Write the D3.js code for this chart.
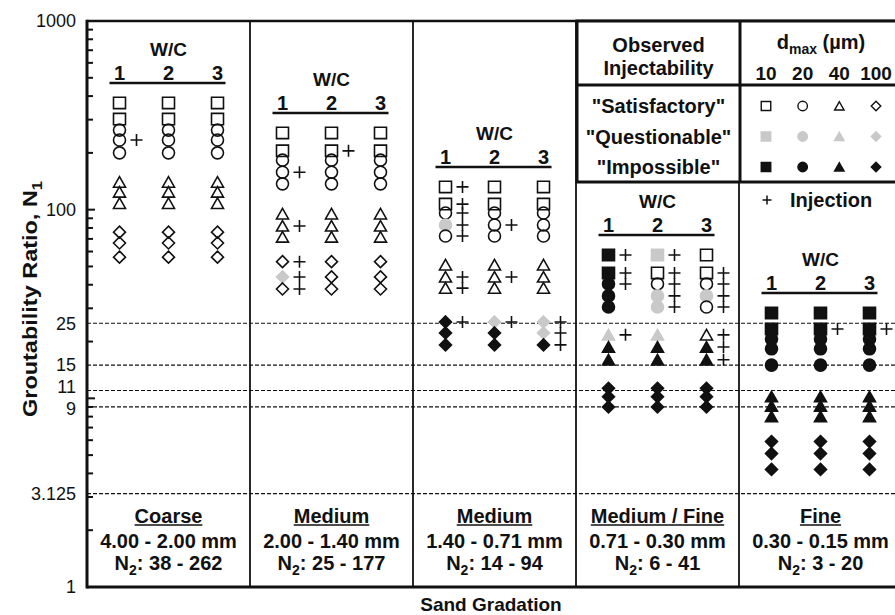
<!DOCTYPE html>
<html>
<head>
<meta charset="utf-8">
<script src="https://cdn.jsdelivr.net/npm/d3@7"></script>
<style>
  html, body { margin: 0; padding: 0; background: #fff; }
  svg { display: block; font-family: "Liberation Sans", Arial, sans-serif; }
</style>
</head>
<body>
<svg id="chart" width="895" height="615"></svg>
<script>
// ---- Sand gradation classes (one panel each) ----
const gradations = ["Coarse", "Medium", "Medium", "Medium / Fine", "Fine"];
const sizeRanges = ["4.00 - 2.00 mm", "2.00 - 1.40 mm", "1.40 - 0.71 mm", "0.71 - 0.30 mm", "0.30 - 0.15 mm"];
const n2Ranges = ["38 - 262", "25 - 177", "14 - 94", "6 - 41", "3 - 20"];
const wcRatios = [1, 2, 3];

// ---- Grout fineness d_max (µm) ----
const dmaxValues = [10, 20, 40, 100];
const statusKeys = ["S", "Q", "I"];
const statusNames = ['"Satisfactory"', '"Questionable"', '"Impossible"'];

// d_max of each grout, listed top to bottom inside a W/C column
const markerDmax = [10, 10, 20, 20, 20, 40, 40, 40, 100, 100, 100];

// Groutability ratio N1 of each grout, per sand gradation
const n1Coarse     = [368, 302, 264, 234, 200, 140, 124, 108, 76, 66.6, 56];
const n1Medium     = [255, 205, 183, 158, 137, 95, 82, 71.6, 53, 44, 38];
const n1MediumFine = [132, 107, 96, 83, 72.5, 51, 44, 38.4, 25.4, 22.2, 19.2];
const n1FineMedium = [57.5, 46.2, 40.4, 34.9, 30.5, 21.7, 18.7, 16, 11.3, 10.2, 9];
const n1Fine       = [28.3, 23.3, 20.6, 18.3, 15, 10.2, 9.1, 8, 5.9, 5.1, 4.2];
const n1Values = [n1Coarse, n1Medium, n1MediumFine, n1FineMedium, n1Fine];

// Observed injectability per W/C column (S satisfactory, Q questionable, I impossible)
const statusCoarse     = ["SSSSSSSSSSS", "SSSSSSSSSSS", "SSSSSSSSSSS"];
const statusMedium     = ["SSSSSSSSSQS", "SSSSSSSSSSS", "SSSSSSSSSSS"];
const statusMediumFine = ["SSSQSSSSIII", "SSSSSSSSQII", "SSSSSSSSQQI"];
const statusFineMedium = ["IIIIIQIIIII", "QSSQQQIIIII", "SSSQSSIIIII"];
const statusFine       = ["IIIIIIIIIII", "IIIIIIIIIII", "IIIIIIIIIII"];
const statusCodes = [statusCoarse, statusMedium, statusMediumFine, statusFineMedium, statusFine];

// Grouts (row index) with an injection test, per W/C column
const injectedCoarse     = [[3], [], []];
const injectedMedium     = [[3, 6, 8, 9, 10], [1], []];
const injectedMediumFine = [[0, 1, 2, 3, 4, 6, 7, 8], [3, 6, 8], [8, 9, 10]];
const injectedFineMedium = [[0, 1, 2, 5], [0, 1, 2, 3, 4], [1, 2, 3, 4, 5, 6, 7]];
const injectedFine       = [[], [1], [1]];
const injectedIdx = [injectedCoarse, injectedMedium, injectedMediumFine, injectedFineMedium, injectedFine];

// ---- Reference N1 levels and axis labels ----
const thresholds = [25, 15, 11, 9, 3.125];
const tickLabels = [1000, 100, 25, 15, 11, 9, 3.125, 1];

// ---- Layout ----
const svg = d3.select("#chart");
const plotL = 87, plotR = 902, plotT = 21, plotB = 587;
const INK = "#111", GREY = "#c9c9c9";

const y = d3.scaleLog().domain([1, 1000]).range([plotB, plotT]);
const xPanel = d3.scaleBand().domain(d3.range(gradations.length)).range([plotL, plotR]);
const xWC = d3.scalePoint().domain(wcRatios).range([-49, 49]);
const panelCenter = i => xPanel(i) + xPanel.bandwidth() / 2;

// ---- Symbol shapes (size = nominal width in px) ----
const symSquare = { draw(ctx, s) { const h = s / 2; ctx.rect(-h, -h * 0.95, s, s * 0.95); } };
const symCircle = { draw(ctx, s) { const r = s / 2; ctx.moveTo(r, 0); ctx.arc(0, 0, r, 0, 2 * Math.PI); } };
const symTriangle = { draw(ctx, s) { const h = s / 2; ctx.moveTo(0, -h * 0.9); ctx.lineTo(h, h * 0.85); ctx.lineTo(-h, h * 0.85); ctx.closePath(); } };
const symDiamond = { draw(ctx, s) { const h = s / 2; ctx.moveTo(0, -h); ctx.lineTo(h, 0); ctx.lineTo(0, h); ctx.lineTo(-h, 0); ctx.closePath(); } };
const symbolFor = new Map([[10, symSquare], [20, symCircle], [40, symTriangle], [100, symDiamond]]);
const fillFor = { S: "none", Q: GREY, I: INK };
const strokeFor = { S: INK, Q: GREY, I: INK };

// ---- Reference levels (dashed) ----
svg.append("g")
  .selectAll("line")
  .data(thresholds)
  .join("line")
  .attr("x1", plotL).attr("x2", plotR)
  .attr("y1", d => y(d)).attr("y2", d => y(d))
  .attr("stroke", INK).attr("stroke-width", 1.2)
  .attr("stroke-dasharray", "4,2");

// ---- Panel dividers ----
svg.append("g")
  .selectAll("line")
  .data(d3.range(1, gradations.length))
  .join("line")
  .attr("x1", d => xPanel(d)).attr("x2", d => xPanel(d))
  .attr("y1", plotT).attr("y2", plotB)
  .attr("stroke", INK).attr("stroke-width", 1.8);

// ---- Markers ----
const markers = [];
const pluses = [];
gradations.forEach((g, p) => {
  wcRatios.forEach((wc, c) => {
    const cx = panelCenter(p) + xWC(wc);
    n1Values[p].forEach((v, k) => {
      markers.push({ x: cx, n1: v, dmax: markerDmax[k], status: statusCodes[p][c][k] });
    });
    injectedIdx[p][c].forEach(k => pluses.push({ x: cx, n1: n1Values[p][k] }));
  });
});

svg.append("g")
  .selectAll("path")
  .data(markers)
  .join("path")
  .attr("transform", d => `translate(${d.x},${y(d.n1)})`)
  .attr("d", d => d3.symbol(symbolFor.get(d.dmax), 12)())
  .attr("fill", d => fillFor[d.status])
  .attr("stroke", d => strokeFor[d.status])
  .attr("stroke-width", 1.6);

// Injection tests
svg.append("g")
  .selectAll("path")
  .data(pluses)
  .join("path")
  .attr("transform", d => `translate(${d.x + 17},${y(d.n1)})`)
  .attr("d", "M-6,0H6M0,-6V6")
  .attr("stroke", INK).attr("stroke-width", 1.6).attr("fill", "none");

// ---- W/C headers above each panel's data ----
gradations.forEach((g, p) => {
  const yTop = y(d3.max(n1Values[p]));
  const cx = panelCenter(p);
  const hg = svg.append("g").attr("font-weight", "bold").attr("fill", INK);
  hg.append("text")
    .attr("x", cx).attr("y", yTop - 54).attr("dy", "0.35em")
    .attr("text-anchor", "middle").attr("font-size", 19)
    .text("W/C");
  hg.selectAll("text.wc")
    .data(wcRatios)
    .join("text")
    .attr("class", "wc")
    .attr("x", d => cx + xWC(d)).attr("y", yTop - 30).attr("dy", "0.35em")
    .attr("text-anchor", "middle").attr("font-size", 20)
    .text(d => d);
  hg.append("line")
    .attr("x1", cx + xWC(1) - 10).attr("x2", cx + xWC(3) + 8)
    .attr("y1", yTop - 20).attr("y2", yTop - 20)
    .attr("stroke", INK).attr("stroke-width", 2.5);
});

// ---- Gradation labels at the foot of each panel ----
gradations.forEach((g, p) => {
  const cx = panelCenter(p);
  const lg = svg.append("g").attr("font-weight", "bold").attr("fill", INK)
    .attr("font-size", 20).attr("text-anchor", "middle");
  const t1 = lg.append("text").attr("x", cx).attr("y", plotB - 71).attr("dy", "0.35em").text(g);
  const w = t1.node().getComputedTextLength();
  lg.append("line")
    .attr("x1", cx - w / 2).attr("x2", cx + w / 2)
    .attr("y1", plotB - 62).attr("y2", plotB - 62)
    .attr("stroke", INK).attr("stroke-width", 1.6);
  lg.append("text").attr("x", cx).attr("y", plotB - 46).attr("dy", "0.35em").text(sizeRanges[p]);
  const t3 = lg.append("text").attr("x", cx).attr("y", plotB - 24).attr("dy", "0.35em");
  t3.append("tspan").text("N");
  t3.append("tspan").attr("font-size", 14).attr("dy", 5).text("2");
  t3.append("tspan").attr("dy", -5).text(": " + n2Ranges[p]);
});

// ---- Y axis: minor ticks and labels ----
const tickVals = y.ticks().filter(v => v > 1 && v < 1000);
svg.append("g")
  .selectAll("line")
  .data(tickVals)
  .join("line")
  .attr("x1", plotL).attr("x2", d => plotL + (Math.log10(d) % 1 === 0 ? 8 : 6))
  .attr("y1", d => y(d)).attr("y2", d => y(d))
  .attr("stroke", INK).attr("stroke-width", 2);

const yLabels = svg.append("g")
  .attr("transform", `translate(${plotL},0)`)
  .call(d3.axisLeft(y).tickValues(tickLabels).tickSize(0).tickPadding(11).tickFormat(d => String(d)));
yLabels.select(".domain").remove();
yLabels.selectAll("text")
  .attr("font-size", 18).attr("font-family", "Liberation Sans, Arial, sans-serif").attr("fill", INK);
// the 11 and 9 levels sit close together: ease their labels apart
yLabels.selectAll(".tick").filter(d => d === 11).select("text").attr("y", -4);
yLabels.selectAll(".tick").filter(d => d === 9).select("text").attr("y", 1.5);

// ---- Frame ----
svg.append("line").attr("x1", plotL).attr("x2", plotR).attr("y1", plotT).attr("y2", plotT)
  .attr("stroke", INK).attr("stroke-width", 2.5);
svg.append("line").attr("x1", plotL).attr("x2", plotR).attr("y1", plotB).attr("y2", plotB)
  .attr("stroke", INK).attr("stroke-width", 3);
svg.append("line").attr("x1", plotL).attr("x2", plotL).attr("y1", plotT - 1.25).attr("y2", plotB + 1.5)
  .attr("stroke", INK).attr("stroke-width", 3);

// ---- Axis titles ----
const yTitle = svg.append("text")
  .attr("transform", `translate(30,${(plotT + plotB) / 2 - 5}) rotate(-90)`)
  .attr("text-anchor", "middle").attr("dy", "0.35em")
  .attr("font-weight", "bold").attr("font-size", 20).attr("fill", INK)
  .attr("textLength", 236).attr("lengthAdjust", "spacingAndGlyphs");
yTitle.append("tspan").text("Groutability Ratio, N");
yTitle.append("tspan").attr("font-size", 14).attr("dy", 5).text("1");

svg.append("text")
  .attr("x", (plotL + 895) / 2).attr("y", 604).attr("dy", "0.35em")
  .attr("text-anchor", "middle").attr("font-weight", "bold").attr("font-size", 19).attr("fill", INK)
  .text("Sand Gradation");

// ---- Legend ----
const legL = 577, legMid = xPanel(4) + 1, legR = 910, legT = plotT, legH = 85, legB = 182;
const leg = svg.append("g");
leg.append("rect").attr("x", legL).attr("y", legT).attr("width", legR - legL).attr("height", legB - legT)
  .attr("fill", "#fff").attr("stroke", INK).attr("stroke-width", 3);
leg.append("line").attr("x1", legL).attr("x2", legR).attr("y1", legH).attr("y2", legH)
  .attr("stroke", INK).attr("stroke-width", 3);
leg.append("line").attr("x1", legMid).attr("x2", legMid).attr("y1", legT).attr("y2", legB)
  .attr("stroke", INK).attr("stroke-width", 3);

const legTxt = leg.append("g").attr("font-weight", "bold").attr("font-size", 20).attr("fill", INK);
const legCx = (legL + legMid) / 2;
legTxt.append("text").attr("x", legCx).attr("y", 45).attr("dy", "0.35em").attr("text-anchor", "middle").text("Observed");
legTxt.append("text").attr("x", legCx).attr("y", 68).attr("dy", "0.35em").attr("text-anchor", "middle").text("Injectability");

const dHead = legTxt.append("text").attr("x", 821).attr("y", 42).attr("dy", "0.35em").attr("text-anchor", "middle");
dHead.append("tspan").text("d");
dHead.append("tspan").attr("font-size", 14).attr("dy", 5).text("max");
dHead.append("tspan").attr("dy", -5).text(" (µm)");

const xLeg = d3.scalePoint().domain(dmaxValues).range([766, 876]);
const yLeg = d3.scalePoint().domain(statusKeys).range([106, 167]);

legTxt.selectAll("text.dm")
  .data(dmaxValues)
  .join("text").attr("class", "dm")
  .attr("x", d => xLeg(d)).attr("y", 73).attr("dy", "0.35em").attr("text-anchor", "middle")
  .attr("font-size", 19)
  .text(d => d);

legTxt.selectAll("text.st")
  .data(statusKeys)
  .join("text").attr("class", "st")
  .attr("x", legCx).attr("y", d => yLeg(d)).attr("dy", "0.35em").attr("text-anchor", "middle")
  .text((d, i) => statusNames[i]);

const legMarks = [];
statusKeys.forEach(s => dmaxValues.forEach(dm => legMarks.push({ s, dm })));
leg.append("g")
  .selectAll("path")
  .data(legMarks)
  .join("path")
  .attr("transform", d => `translate(${xLeg(d.dm)},${yLeg(d.s)})`)
  .attr("d", d => d3.symbol(symbolFor.get(d.dm), 9.5)())
  .attr("fill", d => fillFor[d.s])
  .attr("stroke", d => strokeFor[d.s])
  .attr("stroke-width", 1.4);

// Injection key
leg.append("path").attr("transform", "translate(767,200)")
  .attr("d", "M-4.5,0H4.5M0,-4.5V4.5").attr("stroke", INK).attr("stroke-width", 1.5);
legTxt.append("text").attr("x", 790).attr("y", 200).attr("dy", "0.35em").text("Injection");
</script>
</body>
</html>
